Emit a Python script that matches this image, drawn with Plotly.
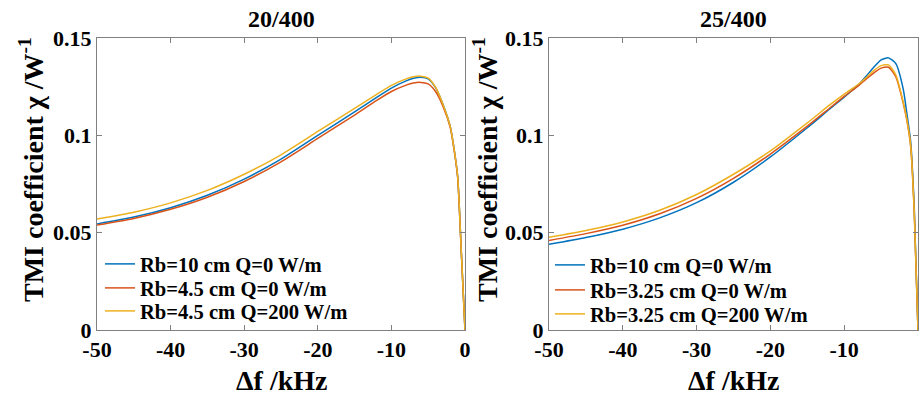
import plotly.graph_objects as go

# ---------------- data ----------------
freq = [-50, -45, -40, -35, -30, -25, -20, -15, -12, -10, -8, -7, -6, -5, -4, -3, -2, -1.5, -1, -0.5, 0]

# 20/400 panel
left_labels = ["Rb=10 cm Q=0 W/m", "Rb=4.5 cm Q=0 W/m", "Rb=4.5 cm Q=200 W/m"]
left_blue = [0.0545, 0.0580, 0.0628, 0.0692, 0.0775, 0.0878, 0.1000, 0.1120, 0.1195, 0.1243, 0.1280,
             0.1293, 0.1298, 0.1290, 0.1245, 0.1160, 0.1045, 0.0935, 0.0790, 0.0400, 0.0]
left_red = [0.0539, 0.0573, 0.0620, 0.0682, 0.0763, 0.0864, 0.0984, 0.1104, 0.1179, 0.1225, 0.1258,
            0.1269, 0.1272, 0.1264, 0.1225, 0.1150, 0.1040, 0.0930, 0.0785, 0.0400, 0.0]
left_yellow = [0.0570, 0.0605, 0.0653, 0.0717, 0.0800, 0.0900, 0.1020, 0.1138, 0.1211, 0.1257, 0.1290,
               0.1301, 0.1304, 0.1294, 0.1247, 0.1160, 0.1045, 0.0935, 0.0790, 0.0400, 0.0]

# 25/400 panel
right_labels = ["Rb=10 cm Q=0 W/m", "Rb=3.25 cm Q=0 W/m", "Rb=3.25 cm Q=200 W/m"]
right_blue = [0.0440, 0.0475, 0.0518, 0.0576, 0.0654, 0.0759, 0.0889, 0.1039, 0.1134, 0.1196, 0.1262,
              0.1305, 0.1350, 0.1388, 0.1398, 0.1368, 0.1237, 0.1110, 0.0970, 0.0620, 0.0]
right_red = [0.0460, 0.0495, 0.0538, 0.0597, 0.0676, 0.0779, 0.0904, 0.1047, 0.1139, 0.1200, 0.1257,
             0.1290, 0.1320, 0.1345, 0.1350, 0.1300, 0.1165, 0.1075, 0.0945, 0.0600, 0.0]
right_yellow = [0.0476, 0.0511, 0.0555, 0.0615, 0.0696, 0.0800, 0.0920, 0.1064, 0.1155, 0.1212, 0.1265,
                0.1297, 0.1332, 0.1358, 0.1362, 0.1310, 0.1170, 0.1080, 0.0950, 0.0600, 0.0]

titles = ["20/400", "25/400"]
x_ticks = [-50, -40, -30, -20, -10, 0]
x_ticktext = ["-50", "-40", "-30", "-20", "-10", "0"]
y_ticks = [0, 0.05, 0.1, 0.15]
y_ticktext = ["0", "0.05", "0.1", "0.15"]

colors = ["#0072BD", "#D95319", "#EDB120"]

# ---------------- figure ----------------
W, H = 921, 396
FONT = "Liberation Serif"

def px_x(p):
    return p / W

def px_y(p):
    return 1 - p / H

fig = go.Figure()

leg_font = dict(family=FONT, size=20.6, color="black", weight="bold")
legend_layout = {}
k = 0
left_rows = [264, 288, 311]
right_rows = [265, 290, 314]
line_common = dict(width=1.5, shape="spline", smoothing=0.6)
for ys, name, c, row in zip([left_blue, left_red, left_yellow], left_labels, colors, left_rows):
    k += 1
    lname = "legend" if k == 1 else "legend%d" % k
    fig.add_trace(go.Scatter(x=freq, y=ys, mode="lines", name=name, line=dict(color=c, **line_common),
                             xaxis="x", yaxis="y", legend=lname, showlegend=True))
    legend_layout[lname] = dict(x=px_x(100), y=px_y(row), xanchor="left", yanchor="middle",
                                bgcolor="rgba(0,0,0,0)", font=leg_font, itemwidth=30,
                                borderwidth=0)
for ys, name, c, row in zip([right_blue, right_red, right_yellow], right_labels, colors, right_rows):
    k += 1
    lname = "legend%d" % k
    fig.add_trace(go.Scatter(x=freq, y=ys, mode="lines", name=name, line=dict(color=c, **line_common),
                             xaxis="x2", yaxis="y2", legend=lname, showlegend=True))
    legend_layout[lname] = dict(x=px_x(550), y=px_y(row), xanchor="left", yanchor="middle",
                                bgcolor="rgba(0,0,0,0)", font=leg_font, itemwidth=30,
                                borderwidth=0)

tickfont = dict(family=FONT, size=22, color="black", weight="bold")
axis_common = dict(showline=True, linecolor="#808080", linewidth=1, mirror="ticks", ticks="inside",
                   ticklen=5, tickcolor="#808080", showgrid=False, zeroline=False, tickfont=tickfont,
                   automargin=False)

ydom = [px_y(330), px_y(38)]
fig.update_layout(
    width=W, height=H,
    showlegend=True,
    margin=dict(l=0, r=0, t=0, b=0, autoexpand=False),
    paper_bgcolor="white", plot_bgcolor="white",
    xaxis=dict(domain=[px_x(97), px_x(465)], range=[-50, 0], tickvals=x_ticks, ticktext=x_ticktext,
               anchor="y", **axis_common),
    yaxis=dict(domain=ydom, range=[0, 0.15], tickvals=y_ticks, ticktext=y_ticktext, anchor="x", **axis_common),
    xaxis2=dict(domain=[px_x(549), px_x(918)], range=[-50, 0], tickvals=x_ticks, ticktext=x_ticktext,
                anchor="y2", **axis_common),
    yaxis2=dict(domain=ydom, range=[0, 0.15], tickvals=y_ticks, ticktext=y_ticktext, anchor="x2", **axis_common),
    **legend_layout,
)

# titles and axis titles as annotations
tfont = dict(family=FONT, size=24, color="black", weight="bold")
afont = dict(family=FONT, size=28, color="black", weight="bold")
for cx, t in zip([281, 733], titles):
    fig.add_annotation(x=px_x(cx), y=px_y(19), xref="paper", yref="paper", text=t, showarrow=False,
                       font=tfont, xanchor="center", yanchor="middle")
for cx in [281, 733]:
    fig.add_annotation(x=px_x(cx), y=px_y(380), xref="paper", yref="paper", text="Δf /kHz",
                       showarrow=False, font=afont, xanchor="center", yanchor="middle")
for cx in [31, 485]:
    fig.add_annotation(x=px_x(cx), y=px_y(170), xref="paper", yref="paper",
                       text="TMI coefficient χ /W<sup>-1</sup>", textangle=-90,
                       showarrow=False, font=afont, xanchor="center", yanchor="middle")

fig.write_html("out.html", config={"displayModeBar": False},
               post_script="document.body.style.margin='0';document.body.style.padding='0';")
